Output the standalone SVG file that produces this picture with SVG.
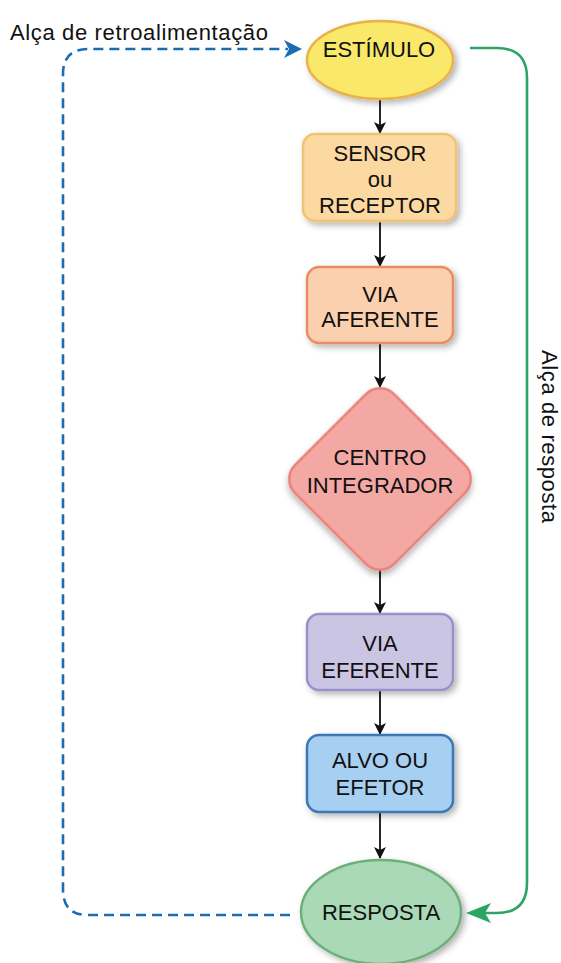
<svg xmlns="http://www.w3.org/2000/svg" width="561" height="963" viewBox="0 0 561 963">
  <defs>
    <filter id="shadow" x="-30%" y="-30%" width="160%" height="160%">
      <feDropShadow dx="3" dy="3" stdDeviation="3" flood-color="#000" flood-opacity="0.3"/>
    </filter>
    <marker id="arrow-black" viewBox="0 0 12 12" refX="11" refY="6" markerWidth="12" markerHeight="12" markerUnits="userSpaceOnUse" orient="auto">
      <path d="M0,0 L12,6 L0,12 L3,6 Z" fill="#111"/>
    </marker>
  </defs>
  <style>
    .lbl { font-family: "Liberation Sans", Arial, sans-serif; font-size: 22px; fill: #111; text-anchor: middle; }
    .side { font-family: "Liberation Sans", Arial, sans-serif; font-size: 22px; fill: #111; }
    .node { stroke-width: 2.5; filter: url(#shadow); }
    .flow { stroke: #111; stroke-width: 1.8; fill: none; marker-end: url(#arrow-black); }
    .feedback { stroke: #1a6db3; stroke-width: 2.6; fill: none; stroke-dasharray: 10 6; }
    .response { stroke: #2aa564; stroke-width: 2.6; fill: none; }
  </style>

  <!-- connectors -->
  <g id="connectors">
    <line class="flow" x1="380" y1="99" x2="380" y2="133"/>
    <line class="flow" x1="380" y1="221" x2="380" y2="266"/>
    <line class="flow" x1="380" y1="343" x2="380" y2="387"/>
    <line class="flow" x1="380" y1="570" x2="380" y2="613"/>
    <line class="flow" x1="380" y1="690" x2="380" y2="734"/>
    <line class="flow" x1="380" y1="812" x2="380" y2="858"/>
    <!-- feedback loop: dashed, back to the stimulus -->
    <path class="feedback" d="M290,915 H88 Q63,915 63,890 V74 Q63,49 88,49 H288"/>
    <path d="M302,49 L284,40 L289,49 L284,58 Z" fill="#1a6db3"/>
    <!-- response loop -->
    <path class="response" d="M470,48 H497 Q527,48 527,78 V883 Q527,913 497,913 H480"/>
    <path d="M466,913 L491,903 L485,913 L491,923 Z" fill="#2aa564"/>
  </g>

  <!-- labels on the loops -->
  <text class="side" x="10" y="40" textLength="258" lengthAdjust="spacing">Alça de retroalimentação</text>
  <text class="side" transform="translate(542,436.5) rotate(90)" text-anchor="middle" textLength="173" lengthAdjust="spacing">Alça de resposta</text>

  <g id="estimulo">
    <ellipse class="node" cx="380" cy="60" rx="73" ry="39" fill="#fae86a" stroke="#e8b24c"/>
    <text class="lbl" x="379" y="57">ESTÍMULO</text>
  </g>

  <g id="sensor">
    <rect class="node" x="303" y="134" width="153" height="87" rx="12" fill="#fcd9a1" stroke="#efc275"/>
    <text class="lbl" x="380" y="161">SENSOR</text>
    <text class="lbl" x="380" y="187">ou</text>
    <text class="lbl" x="380" y="213">RECEPTOR</text>
  </g>

  <g id="via-aferente">
    <rect class="node" x="307" y="267" width="146" height="76" rx="12" fill="#fbd0ae" stroke="#ea8d63"/>
    <text class="lbl" x="380" y="302">VIA</text>
    <text class="lbl" x="380" y="327">AFERENTE</text>
  </g>

  <g id="centro-integrador">
    <rect class="node" x="-70" y="-70" width="140" height="140" rx="20" transform="translate(380,479) rotate(45)" fill="#f4a8a4" stroke="#e87f78"/>
    <text class="lbl" x="380" y="465">CENTRO</text>
    <text class="lbl" x="380" y="493">INTEGRADOR</text>
  </g>

  <g id="via-eferente">
    <rect class="node" x="307" y="614" width="146" height="76" rx="12" fill="#cbc5e4" stroke="#9d90c8"/>
    <text class="lbl" x="380" y="651">VIA</text>
    <text class="lbl" x="380" y="678">EFERENTE</text>
  </g>

  <g id="alvo-efetor">
    <rect class="node" x="307" y="735" width="146" height="77" rx="12" fill="#a6cff1" stroke="#3a78b5"/>
    <text class="lbl" x="380" y="768">ALVO OU</text>
    <text class="lbl" x="380" y="795">EFETOR</text>
  </g>

  <g id="resposta">
    <ellipse class="node" cx="381" cy="912" rx="80" ry="52" fill="#a9d9b6" stroke="#6cb077"/>
    <text class="lbl" x="381" y="920">RESPOSTA</text>
  </g>
</svg>
